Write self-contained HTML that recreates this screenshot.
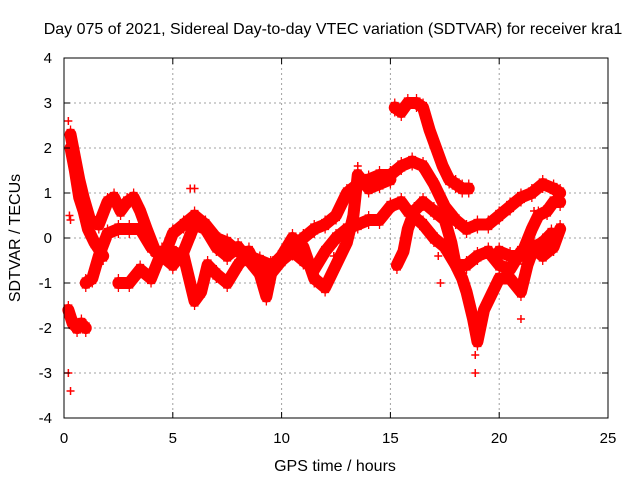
<!DOCTYPE html>
<html><head><meta charset="utf-8"><style>
body{margin:0;background:#fff}
svg{display:block;font-family:"Liberation Sans",sans-serif}
</style></head><body>
<svg id="chart" width="640" height="480">
<text x="333" y="34" text-anchor="middle" font-size="16">Day 075 of 2021, Sidereal Day-to-day VTEC variation (SDTVAR) for receiver kra1</text>
<text x="335" y="471" text-anchor="middle" font-size="16">GPS time / hours</text>
<text transform="translate(20,238) rotate(-90)" text-anchor="middle" font-size="16">SDTVAR / TECUs</text>
<g id="grid"></g>
<g id="marks"></g>
<rect x="64" y="58" width="544" height="360" fill="none" stroke="#000" stroke-width="1"/>
<g id="axes"></g>
</svg>
<script>
const xTicks=[0,5,10,15,20,25];
const yTicks=[-4,-3,-2,-1,0,1,2,3,4];
const track1=[[0.3,2.3],[0.5,1.8],[0.7,1.3],[0.9,0.9],[1.2,0.4],[1.6,0.3],[2.0,0.8],[2.3,0.9],[2.6,0.6],[2.9,0.8],[3.2,0.9],[3.5,0.6],[3.8,0.2],[4.2,-0.3],[4.6,-0.4],[5.0,0.1],[5.5,0.3],[6.0,0.5],[6.5,0.3],[7.0,0.0],[7.5,-0.1],[8.0,-0.3],[8.5,-0.4],[9.0,-0.5],[9.5,-0.6],[10.0,-0.5],[10.5,-0.2],[11.0,0.0],[11.5,0.2],[12.0,0.3],[12.5,0.5],[13.0,1.0],[13.5,1.2],[14.0,1.3],[14.5,1.4],[15.0,1.4],[15.5,1.6],[16.0,1.7],[16.5,1.6],[17.0,1.2],[17.5,0.7],[18.0,0.4],[18.5,0.2],[19.0,0.3],[19.5,0.3],[20.0,0.5],[20.5,0.7],[21.0,0.9],[21.5,1.0],[22.0,1.2],[22.5,1.1],[22.8,1.0]];
const track2=[[1.0,-1.0],[1.3,-0.9],[1.6,-0.4],[2.0,0.1],[2.5,0.2],[3.0,0.2],[3.5,0.2],[4.0,-0.2],[4.5,-0.4],[5.0,-0.6],[5.5,-0.3],[6.0,0.3],[6.5,0.2],[7.0,-0.2],[7.5,-0.4],[8.0,-0.2],[8.5,-0.5],[9.0,-0.8],[9.5,-0.8],[10.0,-0.5],[10.5,-0.3],[11.0,-0.5],[11.5,-0.7],[12.0,-0.3],[12.5,0.0],[13.0,0.2],[13.5,0.3],[14.0,0.4],[14.5,0.4],[15.0,0.7],[15.5,0.8],[15.8,0.6],[16.5,0.3],[17.0,0.0],[17.5,-0.2],[18.0,-0.6],[18.5,-0.6],[19.0,-0.4],[19.5,-0.3],[20.0,-0.6],[20.5,-0.7],[21.0,-0.3],[21.5,-0.2],[22.0,-0.4],[22.5,-0.2],[22.8,0.2]];
const track3=[[2.5,-1.0],[3.0,-1.0],[3.5,-0.7],[4.0,-0.9],[4.5,-0.3],[5.0,-0.3],[5.5,-0.4],[6.0,-1.4],[6.3,-1.2],[6.6,-0.6],[7.0,-0.8],[7.5,-1.0],[8.0,-0.6],[8.5,-0.3],[9.0,-0.8],[9.3,-1.3],[9.6,-0.6],[10.0,-0.4],[10.5,0.0],[11.0,-0.2],[11.5,-0.9],[12.0,-1.1],[12.5,-0.6],[13.0,-0.1],[13.3,0.5],[13.5,1.4],[14.0,1.1],[14.5,1.2],[15.0,1.3]];
const track4=[[15.2,2.9],[15.5,2.8],[15.8,3.0],[16.2,3.0],[16.5,2.9],[16.8,2.4],[17.1,2.0],[17.4,1.6],[17.7,1.3],[18.0,1.2],[18.3,1.1],[18.6,1.1]];
const track5=[[15.3,-0.6],[15.6,-0.3],[15.8,0.2],[16.1,0.6],[16.5,0.8],[17.0,0.6],[17.5,0.4],[17.8,-0.1],[18.0,-0.6],[18.3,-0.9],[18.5,-1.2],[18.8,-1.8],[19.0,-2.3],[19.3,-1.6],[19.6,-1.3],[20.0,-0.9],[20.5,-0.9],[21.0,-1.2],[21.3,-0.6],[21.6,-0.2],[22.0,-0.1],[22.4,0.1]];
const track6=[[0.2,-1.6],[0.4,-1.9],[0.6,-2.0],[0.8,-1.9],[1.0,-2.0]];
const track7=[[20.0,-0.3],[20.5,-0.4],[21.0,-0.4],[21.5,0.2],[21.8,0.5],[22.2,0.6],[22.5,0.8],[22.8,0.8]];
const track8=[[0.3,2.0],[0.5,1.5],[0.7,0.9],[0.9,0.6],[1.1,0.2],[1.4,-0.1],[1.8,-0.4]];
const isolated=[[0.2,-3.0],[0.3,-3.4],[0.25,0.5],[0.3,0.4],[0.2,2.6],[5.8,1.1],[6.0,1.1],[13.5,1.6],[18.9,-3.0],[18.9,-2.6],[17.2,-0.4],[17.3,-1.0],[21.0,-1.8],[21.6,0.6],[12.4,-0.4]];
const tracks=[track1,track2,track3,track4,track5,track6,track7,track8];
const NS='http://www.w3.org/2000/svg';
const X=h=>64+h*544/25, Y=v=>238-v*45;
const grid=document.getElementById('grid'),axes=document.getElementById('axes'),marks=document.getElementById('marks');
function mk(t,a,p){const e=document.createElementNS(NS,t);for(const k in a)e.setAttribute(k,a[k]);p.appendChild(e);return e;}
xTicks.forEach(t=>{const x=X(t);
 if(t>0&&t<25){const g=mk('line',{x1:x,y1:58,x2:x,y2:418,stroke:'#a0a0a0','stroke-dasharray':'2,3'},grid);
 
 }
 const tk=mk('path',{d:`M${x},418v-6M${x},58v6`,stroke:'#000'},axes);
 
 
 const l=mk('text',{x:x,y:443,'text-anchor':'middle','font-size':15},axes);l.textContent=t;
 
 });
yTicks.forEach(t=>{const y=Y(t);
 if(t>-4&&t<4){const g=mk('line',{x1:64,y1:y,x2:608,y2:y,stroke:'#a0a0a0','stroke-dasharray':'2,3'},grid);
 
 }
 const tk=mk('path',{d:`M64,${y}h6M608,${y}h-6`,stroke:'#000'},axes);
 
 
 const l=mk('text',{x:52,y:y+5,'text-anchor':'end','font-size':15},axes);l.textContent=t;
 
 });
tracks.forEach((tr,i)=>{
 const pl=mk('polyline',{points:tr.map(p=>X(p[0])+','+Y(p[1])).join(' '),fill:'none',stroke:'#f00','stroke-width':12,'stroke-linejoin':'round','stroke-linecap':'round'},marks);
 
 
 tr.forEach(p=>{const m=mk('path',{d:`M${X(p[0])-4},${Y(p[1])-5}h8M${X(p[0])-4},${Y(p[1])+5}h8M${X(p[0])},${Y(p[1])-9}v18`,stroke:'#f00','stroke-width':1.3},marks);
 
 });
});
isolated.forEach(p=>{const m=mk('path',{d:`M${X(p[0])-4},${Y(p[1])}h8M${X(p[0])},${Y(p[1])-4}v8`,stroke:'#f00','stroke-width':1.5},marks);
 
 });
</script>
</body></html>
